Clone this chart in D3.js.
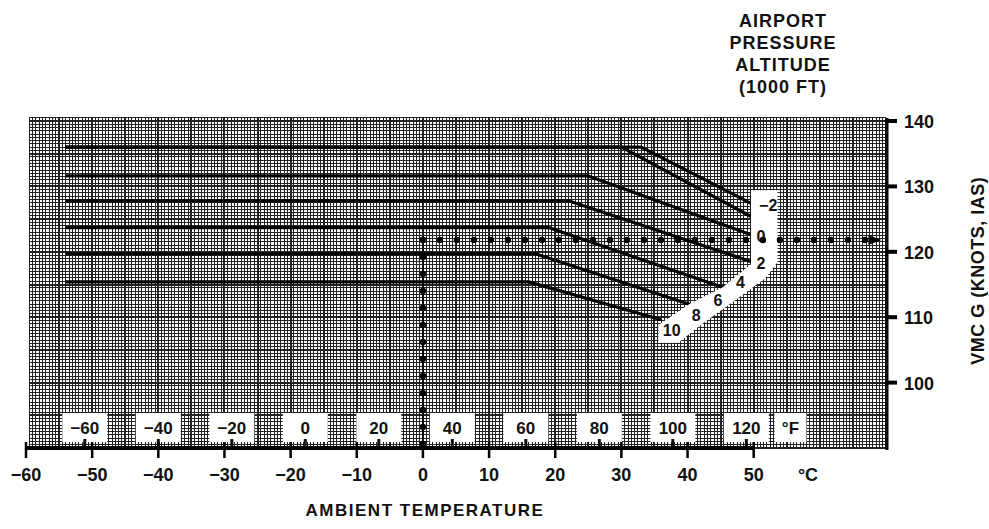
<!DOCTYPE html>
<html>
<head>
<meta charset="utf-8">
<script src="https://cdn.jsdelivr.net/npm/d3@7/dist/d3.min.js"></script>
<style>
  html, body { margin: 0; padding: 0; background: #fff; }
  svg { display: block; }
  text { font-family: "Liberation Sans", Arial, sans-serif; font-weight: bold; fill: #111; }
</style>
</head>
<body>
<script>
// Temperature ticks (°C) along the bottom axis
const celsiusTicks = [-60, -50, -40, -30, -20, -10, 0, 10, 20, 30, 40, 50];
// Fahrenheit reference labels printed inside the grid
const fahrenheitTicks = [-60, -40, -20, 0, 20, 40, 60, 80, 100, 120];
// VMCG axis ticks (knots IAS)
const speedTicks = [100, 110, 120, 130, 140];

// Airport pressure altitude curves (1000 ft): [°C, knots] breakpoints
const altitudes = ["-2", "0", "2", "4", "6", "8", "10"];
const altMinus2 = [[-54, 136], [33, 136], [49.6, 127.4]];
const alt0 = [[-54, 136], [30, 136], [49.6, 125.4]];
const alt2 = [[-54, 131.6], [25, 131.6], [49.6, 122.6]];
const alt4 = [[-54, 127.8], [22, 127.8], [49.6, 118.5]];
const alt6 = [[-54, 123.7], [19, 123.7], [45.5, 114.5]];
const alt8 = [[-54, 119.7], [17, 119.7], [40.5, 111.9]];
const alt10 = [[-54, 115.4], [16, 115.4], [36, 109.6]];
const altCurves = [altMinus2, alt0, alt2, alt4, alt6, alt8, alt10];

// Worked example: 0 °C up to the curves, then across to the VMCG scale
const exampleTemp = 0;
const exampleSpeed = 121.8;

const W = 989, H = 529;
const svg = d3.select("body").append("svg").attr("width", W).attr("height", H);

const x = d3.scaleLinear().domain([-60, 70]).range([26, 886]);
const y = d3.scaleLinear().domain([90, 140]).range([448, 121]);

const gridX0 = -59.5, gridX1 = 70, gridY0 = 90, gridY1 = 140.5;

// ---- grid ----
const grid = svg.append("g").attr("shape-rendering", "crispEdges");
grid.append("rect")
  .attr("x", x(gridX0)).attr("y", y(gridY1))
  .attr("width", x(gridX1) - x(gridX0)).attr("height", y(gridY0) - y(gridY1))
  .attr("fill", "#fff");

const vLines = d3.range(gridX0, gridX1 + 0.01, 0.5);
const hLines = d3.range(gridY0, gridY1 + 0.01, 0.5);
grid.selectAll("line.v").data(vLines).join("line")
  .attr("x1", d => x(d)).attr("x2", d => x(d))
  .attr("y1", y(gridY1)).attr("y2", y(gridY0))
  .attr("stroke", "#222")
  .attr("stroke-width", d => (d % 5 === 0 ? 2 : 1));
grid.selectAll("line.h").data(hLines).join("line")
  .attr("x1", x(gridX0)).attr("x2", x(gridX1))
  .attr("y1", d => y(d)).attr("y2", d => y(d))
  .attr("stroke", "#222")
  .attr("stroke-width", d => (d % 5 === 0 ? 2 : 1));

// ---- Fahrenheit boxes ----
const f2c = f => (f - 32) * 5 / 9;
const fBoxW = 45, fBoxTop = 413, fBoxH = 29;
const fG = svg.append("g");
fahrenheitTicks.forEach(f => {
  const cx = x(f2c(f));
  fG.append("rect").attr("x", cx - fBoxW / 2).attr("y", fBoxTop)
    .attr("width", fBoxW).attr("height", fBoxH).attr("fill", "#fff");
  fG.append("line").attr("x1", cx).attr("x2", cx)
    .attr("y1", fBoxTop + fBoxH - 3).attr("y2", y(90))
    .attr("stroke", "#111").attr("stroke-width", 3);
  fG.append("text").attr("x", cx).attr("y", fBoxTop + 21)
    .attr("text-anchor", "middle").attr("font-size", 17).attr("fill", "#444")
    .text(f < 0 ? "\u2212" + Math.abs(f) : f);
});
{
  const cx = x(f2c(132));
  fG.append("rect").attr("x", cx - 16).attr("y", fBoxTop)
    .attr("width", 32).attr("height", fBoxH).attr("fill", "#fff");
  fG.append("text").attr("x", cx).attr("y", fBoxTop + 21)
    .attr("text-anchor", "middle").attr("font-size", 17).attr("fill", "#444").text("°F");
}

// ---- altitude curves ----
const line = d3.line().x(d => x(d[0])).y(d => y(d[1]));
svg.append("g").selectAll("path").data(altCurves).join("path")
  .attr("d", line).attr("fill", "none")
  .attr("stroke", "#000").attr("stroke-width", 3.2).attr("stroke-linejoin", "round");

// ---- label band for altitudes ----
const bandPts = [[49.6, 129.4], [53.6, 129.4], [53.6, 118.4], [51.8, 116], [47.2, 112.6],
  [42, 108.8], [38.6, 106.1], [35.6, 106.1], [35.6, 108.8], [40.4, 112.1],
  [45.2, 114.5], [49.6, 118.1]];
svg.append("path")
  .attr("d", d3.line().x(d => x(d[0])).y(d => y(d[1])).curve(d3.curveLinearClosed)(bandPts))
  .attr("fill", "#fff");
const altLabelPos = [[52.2, 127.2], [51.1, 122.4], [51.1, 118.3], [48, 115.4], [44.6, 112.7], [41.3, 110.4], [37.6, 108]];
svg.append("g").selectAll("text").data(altitudes).join("text")
  .attr("x", (d, i) => x(altLabelPos[i][0])).attr("y", (d, i) => y(altLabelPos[i][1]) + 6)
  .attr("text-anchor", "middle").attr("font-size", 16).attr("fill", "#444")
  .text(d => d.startsWith("-") ? "\u2212" + d.slice(1) : d);

// ---- example dotted path ----
const dotStep = 17;
const vDots = d3.range(y(exampleSpeed), y(90), dotStep);
const hDots = d3.range(x(exampleTemp), x(67), dotStep);
const exG = svg.append("g");
exG.append("line").attr("x1", x(exampleTemp)).attr("x2", x(exampleTemp))
  .attr("y1", y(exampleSpeed)).attr("y2", y(90)).attr("stroke", "#000").attr("stroke-width", 1.5);
exG.selectAll("circle.v").data(vDots).join("circle")
  .attr("cx", x(exampleTemp)).attr("cy", d => d).attr("r", 3.2).attr("fill", "#000");
exG.selectAll("circle.h").data(hDots).join("circle")
  .attr("cx", d => d).attr("cy", y(exampleSpeed)).attr("r", 3.2).attr("fill", "#000");
exG.append("path")
  .attr("d", `M${x(69.3)},${y(exampleSpeed)} l-13,-5 l0,10 z`).attr("fill", "#000");

// ---- bottom axis ----
const xAxisG = svg.append("g").attr("transform", `translate(0,${y(90)})`);
xAxisG.append("line").attr("x1", x(-60)).attr("x2", x(50))
  .attr("stroke", "#000").attr("stroke-width", 4);
xAxisG.selectAll("line.t").data(celsiusTicks).join("line")
  .attr("x1", d => x(d)).attr("x2", d => x(d)).attr("y1", -6).attr("y2", 10)
  .attr("stroke", "#000").attr("stroke-width", 2.5);
xAxisG.selectAll("text").data(celsiusTicks).join("text")
  .attr("x", d => x(d)).attr("y", 33).attr("text-anchor", "middle").attr("font-size", 18)
  .text(d => d < 0 ? "\u2212" + Math.abs(d) : d);
xAxisG.append("text").attr("x", 808).attr("y", 33).attr("text-anchor", "middle")
  .attr("font-size", 18).text("°C");
svg.append("text").attr("x", 425).attr("y", 516).attr("text-anchor", "middle")
  .attr("font-size", 17).attr("letter-spacing", 1.5).text("AMBIENT TEMPERATURE");

// ---- right axis ----
const yAxisG = svg.append("g").attr("transform", `translate(${x(70) + 1},0)`);
yAxisG.append("line").attr("y1", y(140) - 3).attr("y2", y(90) + 2)
  .attr("stroke", "#000").attr("stroke-width", 3);
yAxisG.selectAll("line.t").data(speedTicks).join("line")
  .attr("x1", -2).attr("x2", 10).attr("y1", d => y(d)).attr("y2", d => y(d))
  .attr("stroke", "#000").attr("stroke-width", 4);
yAxisG.selectAll("text").data(speedTicks).join("text")
  .attr("x", 17).attr("y", d => y(d) + 7).attr("font-size", 18).text(d => d);
svg.append("text")
  .attr("transform", `translate(984,${y(120) + 19}) rotate(-90)`)
  .attr("text-anchor", "middle").attr("font-size", 18).attr("letter-spacing", 0.5)
  .text("VMC G (KNOTS, IAS)");

// ---- altitude title ----
const titleLines = ["AIRPORT", "PRESSURE", "ALTITUDE", "(1000 FT)"];
svg.append("g").selectAll("text").data(titleLines).join("text")
  .attr("x", 783).attr("y", (d, i) => 27 + i * 22).attr("text-anchor", "middle")
  .attr("font-size", 18).attr("letter-spacing", 1).text(d => d);
</script>
</body>
</html>
